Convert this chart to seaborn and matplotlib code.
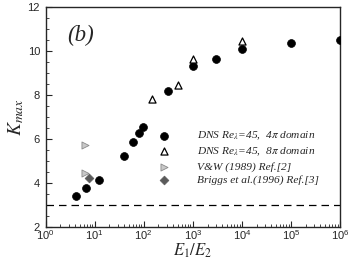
import seaborn as sns
import matplotlib.pyplot as plt
from matplotlib.ticker import MultipleLocator, LogLocator, NullFormatter

# DNS Re_lambda=45, 4pi domain
dns4_x = [4.1, 6.8, 12.2, 40, 61, 80, 99, 306, 1000, 3000, 1e4, 1e5, 1e6]
dns4_y = [3.40, 3.77, 4.11, 5.20, 5.85, 6.28, 6.55, 8.18, 9.30, 9.63, 10.07, 10.33, 10.48]
# DNS Re_lambda=45, 8pi domain
dns8_x = [150, 500, 1000, 1e4]
dns8_y = [7.80, 8.42, 9.62, 10.42]
# V&W (1989)
vw_x = [6.4, 6.4]
vw_y = [5.70, 4.45]
# Briggs et al. (1996)
br_x = [7.7]
br_y = [4.20]

labels = [r"DNS Re$_\lambda$=45,  4$\pi$ domain",
          r"DNS Re$_\lambda$=45,  8$\pi$ domain",
          "V&W (1989) Ref.[2]",
          "Briggs et al.(1996) Ref.[3]"]

sns.set_style("ticks")
plt.rcParams["font.family"] = ["Liberation Sans", "DejaVu Sans"]
plt.rcParams["mathtext.fontset"] = "stix"

fig = plt.figure(figsize=(3.53, 2.64), dpi=100)
ax = fig.add_axes([0.129, 0.141, 0.834, 0.834])

sns.scatterplot(x=dns4_x, y=dns4_y, ax=ax, marker="o", s=32, color="black",
                edgecolor="black", linewidth=0.5, label=labels[0], zorder=3)
sns.scatterplot(x=dns8_x, y=dns8_y, ax=ax, marker="^", s=26, color="white",
                edgecolor="black", linewidth=0.9, label=labels[1], zorder=4)
sns.scatterplot(x=vw_x, y=vw_y, ax=ax, marker=">", s=26, color="#c8c8c8",
                edgecolor="#8a8a8a", linewidth=0.6, label=labels[2], zorder=3)
sns.scatterplot(x=br_x, y=br_y, ax=ax, marker="D", s=20, color="#5a5a5a",
                edgecolor="#5a5a5a", linewidth=0.5, label=labels[3], zorder=3)

ax.axhline(3, color="black", lw=0.9, ls=(0, (6, 4)), zorder=2)

ax.set_xscale("log")
ax.set_xlim(1, 1e6)
ax.set_ylim(2, 12)
ax.xaxis.set_major_locator(LogLocator(base=10, numticks=10))
ax.xaxis.set_minor_locator(LogLocator(base=10, subs=range(2, 10), numticks=20))
ax.xaxis.set_minor_formatter(NullFormatter())
ax.yaxis.set_major_locator(MultipleLocator(2))
ax.yaxis.set_minor_locator(MultipleLocator(0.5))
ax.tick_params(which="both", direction="in", top=False, right=False, labelsize=8)
ax.tick_params(axis="x", pad=1)
ax.tick_params(axis="y", pad=4)
ax.tick_params(which="major", length=4, width=0.8)
ax.tick_params(which="minor", length=2, width=0.6)
for sp in ax.spines.values():
    sp.set_linewidth(1.0)
    sp.set_visible(True)

ax.set_xlabel(r"$E_1/E_2$", fontsize=12, labelpad=0)
ax.set_ylabel(r"$K_{max}$", fontsize=14, labelpad=1)
ax.text(0.072, 0.845, "(b)", transform=ax.transAxes, fontsize=16.5,
        family="Liberation Serif", style="italic")

leg = ax.legend(loc="upper left", bbox_to_anchor=(0.383, 0.44), frameon=False,
                prop={"family": "Liberation Serif", "style": "italic", "size": 8.2},
                handletextpad=2.4, labelspacing=0.3, borderpad=0, borderaxespad=0,
                handlelength=1.0)

fig.savefig("out.png", dpi=100)
